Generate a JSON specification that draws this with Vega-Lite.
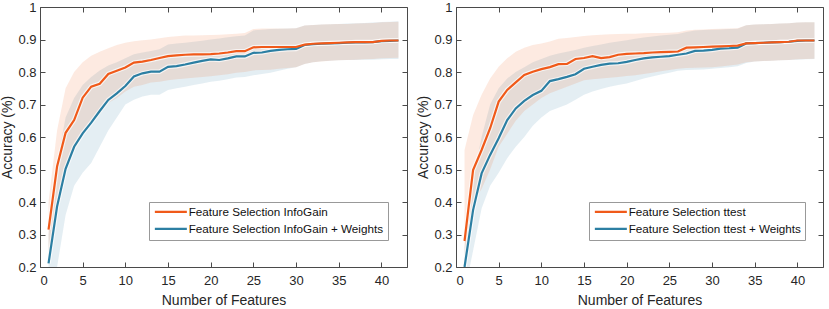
{
"$schema":"https://vega.github.io/schema/vega-lite/v6.json",
"background":"white",
"padding":{"left":0,"top":0,"right":0,"bottom":0},
"spacing":8,
"config":{
 "font":"Liberation Sans",
 "view":{"stroke":"#4a4a4a","strokeWidth":1},
 "axis":{"grid":false,"domain":false,"tickColor":"#4a4a4a","tickSize":-5,"labelFontSize":13,"labelColor":"#262626","titleFontSize":14,"titleFontWeight":"normal","titleColor":"#262626","labelFont":"Liberation Sans","titleFont":"Liberation Sans"},
 "legend":{"symbolType":"M-4,0H4","symbolStrokeWidth":2.2,"symbolSize":64,"symbolOffset":12,"symbolFillColor":"transparent","labelFontSize":11.7,"labelFont":"Liberation Sans","labelColor":"#111","strokeColor":"#999","fillColor":"white","padding":4,"rowPadding":4,"labelOffset":12,"labelLimit":400}
},
"datasets":{
"infogain":[
{"m":"Feature Selection InfoGain + Weights","n":1,"mean":0.211,"lo":0.12,"hi":0.30},
{"m":"Feature Selection InfoGain + Weights","n":2,"mean":0.386,"lo":0.20,"hi":0.52},
{"m":"Feature Selection InfoGain + Weights","n":3,"mean":0.502,"lo":0.36,"hi":0.66},
{"m":"Feature Selection InfoGain + Weights","n":4,"mean":0.570,"lo":0.45,"hi":0.72},
{"m":"Feature Selection InfoGain + Weights","n":5,"mean":0.611,"lo":0.49,"hi":0.76},
{"m":"Feature Selection InfoGain + Weights","n":6,"mean":0.644,"lo":0.52,"hi":0.785},
{"m":"Feature Selection InfoGain + Weights","n":7,"mean":0.680,"lo":0.57,"hi":0.805},
{"m":"Feature Selection InfoGain + Weights","n":8,"mean":0.714,"lo":0.62,"hi":0.82},
{"m":"Feature Selection InfoGain + Weights","n":9,"mean":0.734,"lo":0.66,"hi":0.83},
{"m":"Feature Selection InfoGain + Weights","n":10,"mean":0.757,"lo":0.70,"hi":0.842},
{"m":"Feature Selection InfoGain + Weights","n":11,"mean":0.786,"lo":0.715,"hi":0.855},
{"m":"Feature Selection InfoGain + Weights","n":12,"mean":0.796,"lo":0.725,"hi":0.86},
{"m":"Feature Selection InfoGain + Weights","n":13,"mean":0.801,"lo":0.73,"hi":0.865},
{"m":"Feature Selection InfoGain + Weights","n":14,"mean":0.801,"lo":0.73,"hi":0.87},
{"m":"Feature Selection InfoGain + Weights","n":15,"mean":0.816,"lo":0.745,"hi":0.885},
{"m":"Feature Selection InfoGain + Weights","n":16,"mean":0.818,"lo":0.75,"hi":0.888},
{"m":"Feature Selection InfoGain + Weights","n":17,"mean":0.823,"lo":0.755,"hi":0.89},
{"m":"Feature Selection InfoGain + Weights","n":18,"mean":0.829,"lo":0.76,"hi":0.893},
{"m":"Feature Selection InfoGain + Weights","n":19,"mean":0.834,"lo":0.765,"hi":0.896},
{"m":"Feature Selection InfoGain + Weights","n":20,"mean":0.839,"lo":0.77,"hi":0.90},
{"m":"Feature Selection InfoGain + Weights","n":21,"mean":0.837,"lo":0.773,"hi":0.903},
{"m":"Feature Selection InfoGain + Weights","n":22,"mean":0.842,"lo":0.778,"hi":0.907},
{"m":"Feature Selection InfoGain + Weights","n":23,"mean":0.848,"lo":0.783,"hi":0.91},
{"m":"Feature Selection InfoGain + Weights","n":24,"mean":0.848,"lo":0.785,"hi":0.912},
{"m":"Feature Selection InfoGain + Weights","n":25,"mean":0.859,"lo":0.79,"hi":0.928},
{"m":"Feature Selection InfoGain + Weights","n":26,"mean":0.860,"lo":0.794,"hi":0.93},
{"m":"Feature Selection InfoGain + Weights","n":27,"mean":0.865,"lo":0.798,"hi":0.932},
{"m":"Feature Selection InfoGain + Weights","n":28,"mean":0.868,"lo":0.804,"hi":0.933},
{"m":"Feature Selection InfoGain + Weights","n":29,"mean":0.870,"lo":0.81,"hi":0.934},
{"m":"Feature Selection InfoGain + Weights","n":30,"mean":0.871,"lo":0.815,"hi":0.935},
{"m":"Feature Selection InfoGain + Weights","n":31,"mean":0.883,"lo":0.825,"hi":0.943},
{"m":"Feature Selection InfoGain + Weights","n":32,"mean":0.886,"lo":0.83,"hi":0.945},
{"m":"Feature Selection InfoGain + Weights","n":33,"mean":0.887,"lo":0.833,"hi":0.946},
{"m":"Feature Selection InfoGain + Weights","n":34,"mean":0.888,"lo":0.835,"hi":0.947},
{"m":"Feature Selection InfoGain + Weights","n":35,"mean":0.889,"lo":0.836,"hi":0.948},
{"m":"Feature Selection InfoGain + Weights","n":36,"mean":0.890,"lo":0.837,"hi":0.949},
{"m":"Feature Selection InfoGain + Weights","n":37,"mean":0.891,"lo":0.837,"hi":0.95},
{"m":"Feature Selection InfoGain + Weights","n":38,"mean":0.891,"lo":0.838,"hi":0.951},
{"m":"Feature Selection InfoGain + Weights","n":39,"mean":0.892,"lo":0.838,"hi":0.952},
{"m":"Feature Selection InfoGain + Weights","n":40,"mean":0.895,"lo":0.839,"hi":0.954},
{"m":"Feature Selection InfoGain + Weights","n":41,"mean":0.896,"lo":0.84,"hi":0.955},
{"m":"Feature Selection InfoGain + Weights","n":42,"mean":0.897,"lo":0.84,"hi":0.956},
{"m":"Feature Selection InfoGain","n":1,"mean":0.315,"lo":0.22,"hi":0.40},
{"m":"Feature Selection InfoGain","n":2,"mean":0.509,"lo":0.41,"hi":0.62},
{"m":"Feature Selection InfoGain","n":3,"mean":0.613,"lo":0.50,"hi":0.75},
{"m":"Feature Selection InfoGain","n":4,"mean":0.652,"lo":0.56,"hi":0.80},
{"m":"Feature Selection InfoGain","n":5,"mean":0.721,"lo":0.61,"hi":0.83},
{"m":"Feature Selection InfoGain","n":6,"mean":0.755,"lo":0.65,"hi":0.85},
{"m":"Feature Selection InfoGain","n":7,"mean":0.764,"lo":0.67,"hi":0.862},
{"m":"Feature Selection InfoGain","n":8,"mean":0.794,"lo":0.705,"hi":0.873},
{"m":"Feature Selection InfoGain","n":9,"mean":0.804,"lo":0.72,"hi":0.883},
{"m":"Feature Selection InfoGain","n":10,"mean":0.814,"lo":0.74,"hi":0.89},
{"m":"Feature Selection InfoGain","n":11,"mean":0.829,"lo":0.755,"hi":0.895},
{"m":"Feature Selection InfoGain","n":12,"mean":0.832,"lo":0.76,"hi":0.898},
{"m":"Feature Selection InfoGain","n":13,"mean":0.837,"lo":0.768,"hi":0.90},
{"m":"Feature Selection InfoGain","n":14,"mean":0.843,"lo":0.77,"hi":0.904},
{"m":"Feature Selection InfoGain","n":15,"mean":0.849,"lo":0.775,"hi":0.908},
{"m":"Feature Selection InfoGain","n":16,"mean":0.851,"lo":0.778,"hi":0.91},
{"m":"Feature Selection InfoGain","n":17,"mean":0.853,"lo":0.78,"hi":0.912},
{"m":"Feature Selection InfoGain","n":18,"mean":0.854,"lo":0.782,"hi":0.912},
{"m":"Feature Selection InfoGain","n":19,"mean":0.854,"lo":0.785,"hi":0.913},
{"m":"Feature Selection InfoGain","n":20,"mean":0.855,"lo":0.787,"hi":0.914},
{"m":"Feature Selection InfoGain","n":21,"mean":0.857,"lo":0.79,"hi":0.915},
{"m":"Feature Selection InfoGain","n":22,"mean":0.860,"lo":0.793,"hi":0.916},
{"m":"Feature Selection InfoGain","n":23,"mean":0.864,"lo":0.798,"hi":0.918},
{"m":"Feature Selection InfoGain","n":24,"mean":0.864,"lo":0.80,"hi":0.92},
{"m":"Feature Selection InfoGain","n":25,"mean":0.876,"lo":0.805,"hi":0.932},
{"m":"Feature Selection InfoGain","n":26,"mean":0.877,"lo":0.806,"hi":0.934},
{"m":"Feature Selection InfoGain","n":27,"mean":0.877,"lo":0.807,"hi":0.934},
{"m":"Feature Selection InfoGain","n":28,"mean":0.877,"lo":0.81,"hi":0.934},
{"m":"Feature Selection InfoGain","n":29,"mean":0.877,"lo":0.812,"hi":0.934},
{"m":"Feature Selection InfoGain","n":30,"mean":0.877,"lo":0.815,"hi":0.935},
{"m":"Feature Selection InfoGain","n":31,"mean":0.884,"lo":0.825,"hi":0.943},
{"m":"Feature Selection InfoGain","n":32,"mean":0.887,"lo":0.83,"hi":0.945},
{"m":"Feature Selection InfoGain","n":33,"mean":0.888,"lo":0.832,"hi":0.946},
{"m":"Feature Selection InfoGain","n":34,"mean":0.889,"lo":0.835,"hi":0.947},
{"m":"Feature Selection InfoGain","n":35,"mean":0.890,"lo":0.836,"hi":0.948},
{"m":"Feature Selection InfoGain","n":36,"mean":0.891,"lo":0.837,"hi":0.948},
{"m":"Feature Selection InfoGain","n":37,"mean":0.892,"lo":0.838,"hi":0.949},
{"m":"Feature Selection InfoGain","n":38,"mean":0.892,"lo":0.839,"hi":0.95},
{"m":"Feature Selection InfoGain","n":39,"mean":0.892,"lo":0.84,"hi":0.951},
{"m":"Feature Selection InfoGain","n":40,"mean":0.896,"lo":0.842,"hi":0.953},
{"m":"Feature Selection InfoGain","n":41,"mean":0.897,"lo":0.843,"hi":0.954},
{"m":"Feature Selection InfoGain","n":42,"mean":0.897,"lo":0.844,"hi":0.955}
],
"ttest":[
{"m":"Feature Selection ttest + Weights","n":1,"mean":0.200,"lo":0.12,"hi":0.26},
{"m":"Feature Selection ttest + Weights","n":2,"mean":0.375,"lo":0.25,"hi":0.47},
{"m":"Feature Selection ttest + Weights","n":3,"mean":0.488,"lo":0.38,"hi":0.60},
{"m":"Feature Selection ttest + Weights","n":4,"mean":0.545,"lo":0.45,"hi":0.70},
{"m":"Feature Selection ttest + Weights","n":5,"mean":0.596,"lo":0.49,"hi":0.75},
{"m":"Feature Selection ttest + Weights","n":6,"mean":0.652,"lo":0.535,"hi":0.78},
{"m":"Feature Selection ttest + Weights","n":7,"mean":0.688,"lo":0.57,"hi":0.80},
{"m":"Feature Selection ttest + Weights","n":8,"mean":0.711,"lo":0.60,"hi":0.815},
{"m":"Feature Selection ttest + Weights","n":9,"mean":0.729,"lo":0.635,"hi":0.83},
{"m":"Feature Selection ttest + Weights","n":10,"mean":0.742,"lo":0.66,"hi":0.84},
{"m":"Feature Selection ttest + Weights","n":11,"mean":0.772,"lo":0.68,"hi":0.85},
{"m":"Feature Selection ttest + Weights","n":12,"mean":0.778,"lo":0.69,"hi":0.857},
{"m":"Feature Selection ttest + Weights","n":13,"mean":0.785,"lo":0.70,"hi":0.862},
{"m":"Feature Selection ttest + Weights","n":14,"mean":0.793,"lo":0.715,"hi":0.868},
{"m":"Feature Selection ttest + Weights","n":15,"mean":0.810,"lo":0.73,"hi":0.875},
{"m":"Feature Selection ttest + Weights","n":16,"mean":0.816,"lo":0.74,"hi":0.88},
{"m":"Feature Selection ttest + Weights","n":17,"mean":0.822,"lo":0.748,"hi":0.885},
{"m":"Feature Selection ttest + Weights","n":18,"mean":0.826,"lo":0.755,"hi":0.89},
{"m":"Feature Selection ttest + Weights","n":19,"mean":0.827,"lo":0.76,"hi":0.894},
{"m":"Feature Selection ttest + Weights","n":20,"mean":0.831,"lo":0.765,"hi":0.898},
{"m":"Feature Selection ttest + Weights","n":21,"mean":0.837,"lo":0.772,"hi":0.902},
{"m":"Feature Selection ttest + Weights","n":22,"mean":0.842,"lo":0.78,"hi":0.906},
{"m":"Feature Selection ttest + Weights","n":23,"mean":0.845,"lo":0.786,"hi":0.909},
{"m":"Feature Selection ttest + Weights","n":24,"mean":0.847,"lo":0.792,"hi":0.912},
{"m":"Feature Selection ttest + Weights","n":25,"mean":0.849,"lo":0.798,"hi":0.915},
{"m":"Feature Selection ttest + Weights","n":26,"mean":0.853,"lo":0.804,"hi":0.917},
{"m":"Feature Selection ttest + Weights","n":27,"mean":0.857,"lo":0.806,"hi":0.923},
{"m":"Feature Selection ttest + Weights","n":28,"mean":0.865,"lo":0.807,"hi":0.928},
{"m":"Feature Selection ttest + Weights","n":29,"mean":0.866,"lo":0.808,"hi":0.929},
{"m":"Feature Selection ttest + Weights","n":30,"mean":0.868,"lo":0.81,"hi":0.93},
{"m":"Feature Selection ttest + Weights","n":31,"mean":0.872,"lo":0.812,"hi":0.931},
{"m":"Feature Selection ttest + Weights","n":32,"mean":0.873,"lo":0.815,"hi":0.932},
{"m":"Feature Selection ttest + Weights","n":33,"mean":0.875,"lo":0.818,"hi":0.933},
{"m":"Feature Selection ttest + Weights","n":34,"mean":0.888,"lo":0.828,"hi":0.944},
{"m":"Feature Selection ttest + Weights","n":35,"mean":0.889,"lo":0.832,"hi":0.946},
{"m":"Feature Selection ttest + Weights","n":36,"mean":0.890,"lo":0.834,"hi":0.947},
{"m":"Feature Selection ttest + Weights","n":37,"mean":0.891,"lo":0.835,"hi":0.948},
{"m":"Feature Selection ttest + Weights","n":38,"mean":0.892,"lo":0.836,"hi":0.949},
{"m":"Feature Selection ttest + Weights","n":39,"mean":0.893,"lo":0.837,"hi":0.95},
{"m":"Feature Selection ttest + Weights","n":40,"mean":0.896,"lo":0.838,"hi":0.952},
{"m":"Feature Selection ttest + Weights","n":41,"mean":0.897,"lo":0.839,"hi":0.953},
{"m":"Feature Selection ttest + Weights","n":42,"mean":0.897,"lo":0.84,"hi":0.953},
{"m":"Feature Selection ttest","n":1,"mean":0.280,"lo":0.20,"hi":0.56},
{"m":"Feature Selection ttest","n":2,"mean":0.498,"lo":0.40,"hi":0.667},
{"m":"Feature Selection ttest","n":3,"mean":0.560,"lo":0.44,"hi":0.73},
{"m":"Feature Selection ttest","n":4,"mean":0.627,"lo":0.50,"hi":0.78},
{"m":"Feature Selection ttest","n":5,"mean":0.709,"lo":0.57,"hi":0.816},
{"m":"Feature Selection ttest","n":6,"mean":0.745,"lo":0.61,"hi":0.842},
{"m":"Feature Selection ttest","n":7,"mean":0.768,"lo":0.65,"hi":0.862},
{"m":"Feature Selection ttest","n":8,"mean":0.791,"lo":0.68,"hi":0.875},
{"m":"Feature Selection ttest","n":9,"mean":0.801,"lo":0.70,"hi":0.883},
{"m":"Feature Selection ttest","n":10,"mean":0.809,"lo":0.72,"hi":0.888},
{"m":"Feature Selection ttest","n":11,"mean":0.815,"lo":0.735,"hi":0.894},
{"m":"Feature Selection ttest","n":12,"mean":0.824,"lo":0.745,"hi":0.902},
{"m":"Feature Selection ttest","n":13,"mean":0.825,"lo":0.755,"hi":0.905},
{"m":"Feature Selection ttest","n":14,"mean":0.840,"lo":0.765,"hi":0.908},
{"m":"Feature Selection ttest","n":15,"mean":0.843,"lo":0.775,"hi":0.911},
{"m":"Feature Selection ttest","n":16,"mean":0.849,"lo":0.778,"hi":0.913},
{"m":"Feature Selection ttest","n":17,"mean":0.843,"lo":0.78,"hi":0.915},
{"m":"Feature Selection ttest","n":18,"mean":0.846,"lo":0.782,"hi":0.916},
{"m":"Feature Selection ttest","n":19,"mean":0.853,"lo":0.785,"hi":0.917},
{"m":"Feature Selection ttest","n":20,"mean":0.856,"lo":0.788,"hi":0.918},
{"m":"Feature Selection ttest","n":21,"mean":0.857,"lo":0.79,"hi":0.918},
{"m":"Feature Selection ttest","n":22,"mean":0.858,"lo":0.794,"hi":0.919},
{"m":"Feature Selection ttest","n":23,"mean":0.860,"lo":0.798,"hi":0.92},
{"m":"Feature Selection ttest","n":24,"mean":0.861,"lo":0.802,"hi":0.92},
{"m":"Feature Selection ttest","n":25,"mean":0.862,"lo":0.806,"hi":0.921},
{"m":"Feature Selection ttest","n":26,"mean":0.863,"lo":0.81,"hi":0.922},
{"m":"Feature Selection ttest","n":27,"mean":0.875,"lo":0.812,"hi":0.928},
{"m":"Feature Selection ttest","n":28,"mean":0.876,"lo":0.813,"hi":0.93},
{"m":"Feature Selection ttest","n":29,"mean":0.877,"lo":0.814,"hi":0.931},
{"m":"Feature Selection ttest","n":30,"mean":0.878,"lo":0.815,"hi":0.932},
{"m":"Feature Selection ttest","n":31,"mean":0.879,"lo":0.817,"hi":0.933},
{"m":"Feature Selection ttest","n":32,"mean":0.880,"lo":0.82,"hi":0.934},
{"m":"Feature Selection ttest","n":33,"mean":0.881,"lo":0.823,"hi":0.935},
{"m":"Feature Selection ttest","n":34,"mean":0.888,"lo":0.83,"hi":0.944},
{"m":"Feature Selection ttest","n":35,"mean":0.889,"lo":0.832,"hi":0.946},
{"m":"Feature Selection ttest","n":36,"mean":0.890,"lo":0.834,"hi":0.947},
{"m":"Feature Selection ttest","n":37,"mean":0.891,"lo":0.835,"hi":0.948},
{"m":"Feature Selection ttest","n":38,"mean":0.892,"lo":0.836,"hi":0.949},
{"m":"Feature Selection ttest","n":39,"mean":0.893,"lo":0.837,"hi":0.95},
{"m":"Feature Selection ttest","n":40,"mean":0.897,"lo":0.839,"hi":0.952},
{"m":"Feature Selection ttest","n":41,"mean":0.897,"lo":0.84,"hi":0.953},
{"m":"Feature Selection ttest","n":42,"mean":0.897,"lo":0.841,"hi":0.953}
]
},
"hconcat":[
{
 "width":367,"height":260,
 "data":{"name":"infogain"},
 "layer":[
  {"mark":{"type":"area","clip":true,"fillOpacity":0.13},
   "encoding":{
    "x":{"field":"n","type":"quantitative","scale":{"domain":[0,43],"nice":false,"zero":false},"axis":{"orient":"bottom","values":[0,5,10,15,20,25,30,35,40],"title":"Number of Features","labelPadding":12,"titlePadding":6}},
    "y":{"field":"lo","type":"quantitative","scale":{"domain":[0.2,1],"nice":false,"zero":false},"axis":{"orient":"left","values":[0.2,0.3,0.4,0.5,0.6,0.7,0.8,0.9,1],"format":"~g","title":"Accuracy (%)","labelPadding":9,"titlePadding":3}},
    "y2":{"field":"hi"},
    "fill":{"field":"m","type":"nominal","scale":{"domain":["Feature Selection InfoGain","Feature Selection InfoGain + Weights"],"range":["#F05A1A","#2C7FA3"]},"legend":{"title":null,"orient":"none","legendX":109,"legendY":195}}
   }},
  {"mark":{"type":"line","clip":true,"stroke":"white","strokeWidth":4.5,"opacity":0.7},
   "encoding":{
    "x":{"field":"n","type":"quantitative","axis":null},
    "y":{"field":"mean","type":"quantitative","axis":null},
    "detail":{"field":"m","type":"nominal"}
   }},
  {"mark":{"type":"line","clip":true,"strokeWidth":2.2},
   "encoding":{
    "x":{"field":"n","type":"quantitative","axis":null},
    "y":{"field":"mean","type":"quantitative","axis":null},
    "color":{"field":"m","type":"nominal","scale":{"domain":["Feature Selection InfoGain","Feature Selection InfoGain + Weights"],"range":["#F05A1A","#2C7FA3"]},"legend":{"title":null,"orient":"none","legendX":109,"legendY":195}}
   }},
  {"mark":{"type":"point","opacity":0},
   "encoding":{
    "x":{"field":"n","type":"quantitative","axis":{"orient":"top","labels":false,"title":null,"values":[0,5,10,15,20,25,30,35,40]}},
    "y":{"field":"mean","type":"quantitative","axis":{"orient":"right","labels":false,"title":null,"values":[0.2,0.3,0.4,0.5,0.6,0.7,0.8,0.9,1]}}
   }}
 ],
 "resolve":{"axis":{"x":"independent","y":"independent"}}
},
{
 "width":367,"height":260,
 "data":{"name":"ttest"},
 "layer":[
  {"mark":{"type":"area","clip":true,"fillOpacity":0.13},
   "encoding":{
    "x":{"field":"n","type":"quantitative","scale":{"domain":[0,43],"nice":false,"zero":false},"axis":{"orient":"bottom","values":[0,5,10,15,20,25,30,35,40],"title":"Number of Features","labelPadding":12,"titlePadding":6}},
    "y":{"field":"lo","type":"quantitative","scale":{"domain":[0.2,1],"nice":false,"zero":false},"axis":{"orient":"left","values":[0.2,0.3,0.4,0.5,0.6,0.7,0.8,0.9,1],"format":"~g","title":"Accuracy (%)","labelPadding":9,"titlePadding":3}},
    "y2":{"field":"hi"},
    "fill":{"field":"m","type":"nominal","scale":{"domain":["Feature Selection ttest","Feature Selection ttest + Weights"],"range":["#F05A1A","#2C7FA3"]},"legend":{"title":null,"orient":"none","legendX":133,"legendY":195}}
   }},
  {"mark":{"type":"line","clip":true,"stroke":"white","strokeWidth":4.5,"opacity":0.7},
   "encoding":{
    "x":{"field":"n","type":"quantitative","axis":null},
    "y":{"field":"mean","type":"quantitative","axis":null},
    "detail":{"field":"m","type":"nominal"}
   }},
  {"mark":{"type":"line","clip":true,"strokeWidth":2.2},
   "encoding":{
    "x":{"field":"n","type":"quantitative","axis":null},
    "y":{"field":"mean","type":"quantitative","axis":null},
    "color":{"field":"m","type":"nominal","scale":{"domain":["Feature Selection ttest","Feature Selection ttest + Weights"],"range":["#F05A1A","#2C7FA3"]},"legend":{"title":null,"orient":"none","legendX":133,"legendY":195}}
   }},
  {"mark":{"type":"point","opacity":0},
   "encoding":{
    "x":{"field":"n","type":"quantitative","axis":{"orient":"top","labels":false,"title":null,"values":[0,5,10,15,20,25,30,35,40]}},
    "y":{"field":"mean","type":"quantitative","axis":{"orient":"right","labels":false,"title":null,"values":[0.2,0.3,0.4,0.5,0.6,0.7,0.8,0.9,1]}}
   }}
 ],
 "resolve":{"axis":{"x":"independent","y":"independent"}}
}
],
"resolve":{"scale":{"color":"independent","fill":"independent"}}
}
